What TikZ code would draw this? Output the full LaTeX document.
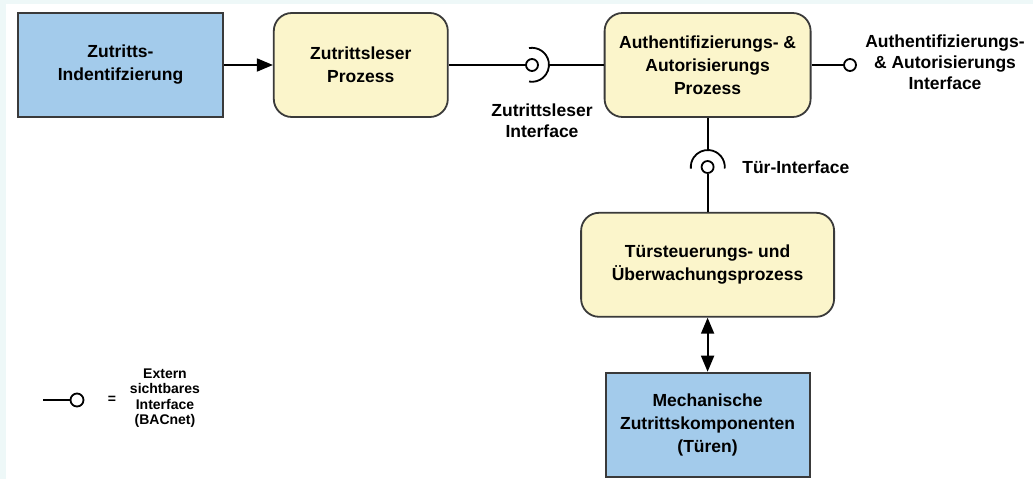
\documentclass[tikz,border=0pt]{standalone}
\usepackage{fontspec}
\setmainfont{Liberation Sans}
\usetikzlibrary{arrows.meta, positioning}
\definecolor{extblue}{HTML}{A3CBEB}
\definecolor{procyellow}{HTML}{FBF5CB}
\definecolor{edgegray}{HTML}{3A3A3A}
\definecolor{framecyan}{HTML}{EEF8F8}

\begin{document}
\begin{tikzpicture}[x=1pt, y=-1pt,
  extern/.style={rectangle, draw=edgegray, line width=1.8pt, fill=extblue,
    align=center, inner sep=0pt, minimum height=104pt,
    font=\fontsize{17.5}{23}\selectfont\bfseries},
  prozess/.style={extern, fill=procyellow, rounded corners=18pt},
  ball/.style={circle, draw=black, line width=1.8pt, fill=white,
    minimum size=12pt, inner sep=0pt},
  sockring/.style={circle, minimum size=34pt, inner sep=0pt},
  iflabel/.style={align=center, font=\fontsize{17.5}{21}\selectfont\bfseries},
  legtext/.style={align=center, font=\fontsize{14}{15.5}\selectfont\bfseries},
  link/.style={line width=1.8pt},
  arrow/.style={-{Triangle[length=16pt,width=13pt]}, line width=1.8pt},
  dblarrow/.style={{Triangle[length=16pt,width=13pt]}-{Triangle[length=16pt,width=13pt]}, line width=1.8pt}
]
  % background
  \fill[framecyan] (0,0) rectangle (1033,479);
  \fill[white] (6,4) rectangle (1033,479);

  \node[extern, minimum width=205pt] (zid) at (120.5,65) {Zutritts-\\Indentifzierung};
  \node[prozess, minimum width=174pt, right=49pt of zid] (zlp) {Zutrittsleser\\Prozess};
  \node[prozess, minimum width=206pt, right=155pt of zlp] (aap) {Authentifizierungs- \&\\Autorisierungs\\Prozess};
  \node[prozess, minimum width=253pt, below=94pt of aap] (tsp) {Türsteuerungs- und\\Überwachungsprozess};
  \node[extern, minimum width=204pt, below=54pt of tsp] (mzk) {Mechanische\\Zutrittskomponenten\\(Türen)};

  % interfaces
  \node[ball] (zli) at (532,65) {};
  \node[sockring] (zlis) at (zli) {};
  \node[ball] (aai) at (850,65) {};
  \node[ball] (tib) at (aap.south |- 0,167) {};
  \node[sockring] (tibs) at (tib) {};

  \node[iflabel] (zlil) at (542,121) {Zutrittsleser\\Interface};
  \node[iflabel] (aail) at (945,62) {Authentifizierungs-\\\& Autorisierungs\\Interface};
  \node[iflabel, right=14pt of tibs.east, anchor=west] (til) {Tür-Interface};

  \draw[arrow] (zid) -- (zlp);
  \draw[link] (zlp) -- (zli);
  \draw[link] (zlis.100) arc[start angle=-100, end angle=100, radius=17];
  \draw[link] (zlis.east) -- (aap.west);
  \draw[link] (aap) -- (aai);
  \draw[link] (aap.south) -- (tibs.north);
  \draw[link] (tibs.-5) arc[start angle=5, end angle=-185, radius=17];
  \draw[link] (tib) -- (tsp);
  \draw[dblarrow] (tsp) -- (mzk);

  % legend
  \coordinate (lgs) at (43,400);
  \node[ball, minimum size=13pt] (lgb) at (77,400) {};
  \node[legtext] (leq) at (112,400) {=};
  \node[legtext] (lgt) at (165,398) {Extern\\sichtbares\\Interface\\(BACnet)};
  \draw[link] (lgs) -- (lgb);
\end{tikzpicture}
\end{document}
